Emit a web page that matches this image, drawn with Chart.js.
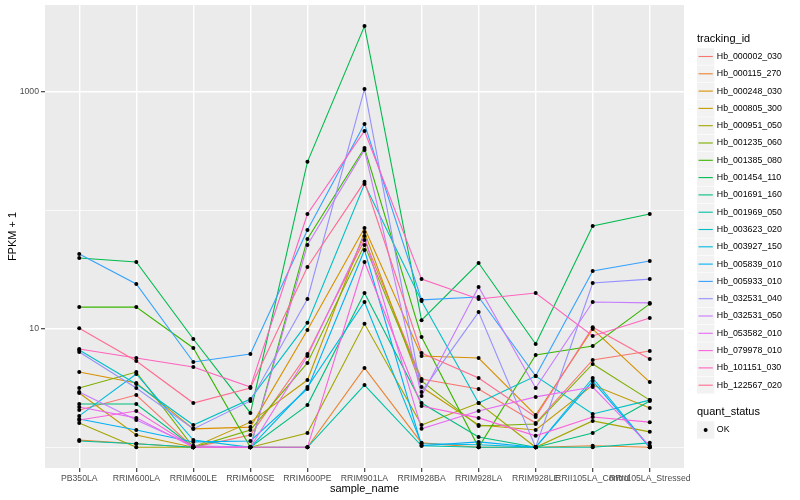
<!DOCTYPE html>
<html>
<head>
<meta charset="utf-8">
<script src="https://cdn.jsdelivr.net/npm/chart.js@4.4.1/dist/chart.umd.min.js"></script>
<style>
  html, body { margin: 0; padding: 0; background: #fff; }
  #wrap { width: 800px; height: 500px; }
</style>
</head>
<body>
<div id="wrap"><canvas id="chart" width="800" height="500"></canvas></div>
<script>
const categories = ['PB350LA', 'RRIM600LA', 'RRIM600LE', 'RRIM600SE', 'RRIM600PE', 'RRIM901LA',
    'RRIM928BA', 'RRIM928LA', 'RRIM928LE', 'RRII105LA_Control', 'RRII105LA_Stressed'];

// FPKM + 1, one array per tracking_id, in the order of categories
const Hb_000002_030 = [2.06, 2.76, 1, 1.27, 6.12, 56.0, 3.77, 3.10, 1.60, 5.45, 6.49];
const Hb_000115_270 = [1.15, 1.07, 1, 1, 1, 4.66, 1.09, 1, 1, 1.03, 1];
const Hb_000248_030 = [4.31, 3.48, 1.43, 1.48, 9.75, 70.6, 5.89, 5.66, 1.87, 9.94, 3.55];
const Hb_000805_300 = [2.87, 1.27, 1, 1.63, 3.69, 65.3, 3.22, 1.54, 1.40, 3.35, 2.14];
const Hb_000951_050 = [1.60, 1, 1, 1, 1.32, 11.0, 1.54, 2.36, 1, 1.67, 1.35];
const Hb_001235_060 = [3.16, 4.31, 1, 1.40, 5.14, 50.8, 3.62, 1.51, 1.57, 5.04, 2.50];
const Hb_001385_080 = [15.2, 15.2, 6.88, 1, 57.1, 334, 8.51, 1, 6.00, 7.15, 16.2];
const Hb_001454_110 = [39.5, 36.5, 8.19, 1.95, 255, 3560, 11.8, 35.8, 7.43, 73.5, 92.7];
const Hb_001691_160 = [2.32, 2.32, 1, 1, 2.27, 20.0, 2.36, 1.22, 1, 1.32, 2.46];
const Hb_001969_050 = [1.13, 1.07, 1, 1, 1, 3.35, 1.03, 1, 1, 1, 1.09];
const Hb_003623_020 = [6.61, 3.42, 1.54, 2.55, 11.2, 166, 17.1, 2.36, 3.99, 1.91, 2.50];
const Hb_003927_150 = [1.84, 4.15, 1.15, 1, 3.22, 16.8, 1.07, 1.05, 1, 3.84, 1];
const Hb_005839_010 = [1.73, 1.40, 1.11, 1.13, 3.10, 46.1, 1.03, 1.11, 1, 3.62, 1];
const Hb_005933_010 = [42.6, 23.8, 5.24, 6.12, 67.9, 532, 17.5, 18.5, 3.99, 30.7, 37.2];
const Hb_032531_040 = [6.36, 3.16, 1.43, 2.46, 17.8, 1050, 2.93, 13.8, 1, 24.3, 26.2];
const Hb_032531_050 = [2.93, 1.70, 1.03, 1, 50.8, 321, 2.71, 22.5, 3.16, 16.8, 16.5];
const Hb_053582_010 = [2.19, 1.77, 1, 1, 5.89, 60.5, 1.43, 2.02, 2.66, 3.22, 1.03];
const Hb_079978_010 = [1.70, 2.02, 1, 1, 1, 36.5, 2.23, 1.77, 1.25, 1.80, 1.63];
const Hb_101151_030 = [6.74, 5.66, 4.75, 3.22, 92.7, 464, 26.2, 17.8, 20.0, 8.68, 12.3];
const Hb_122567_020 = [10.1, 5.34, 2.36, 3.16, 33.1, 173, 6.24, 3.84, 1.80, 10.3, 5.55];

const trackingIds = ['Hb_000002_030', 'Hb_000115_270', 'Hb_000248_030', 'Hb_000805_300', 'Hb_000951_050',
    'Hb_001235_060', 'Hb_001385_080', 'Hb_001454_110', 'Hb_001691_160', 'Hb_001969_050',
    'Hb_003623_020', 'Hb_003927_150', 'Hb_005839_010', 'Hb_005933_010', 'Hb_032531_040',
    'Hb_032531_050', 'Hb_053582_010', 'Hb_079978_010', 'Hb_101151_030', 'Hb_122567_020'];
const seriesValues = [Hb_000002_030, Hb_000115_270, Hb_000248_030, Hb_000805_300, Hb_000951_050,
    Hb_001235_060, Hb_001385_080, Hb_001454_110, Hb_001691_160, Hb_001969_050,
    Hb_003623_020, Hb_003927_150, Hb_005839_010, Hb_005933_010, Hb_032531_040,
    Hb_032531_050, Hb_053582_010, Hb_079978_010, Hb_101151_030, Hb_122567_020];

const yBreaks = [1, 10, 100, 1000];
const yLabelled = [10, 1000];

// ggplot hue palette, 20 levels
const colores = ['#F8766D', '#EA8331', '#D89000', '#C09B00', '#A3A500', '#7CAE00', '#39B600', '#00BB4E',
    '#00BF7D', '#00C1A3', '#00BFC4', '#00BAE0', '#00B0F6', '#35A2FF', '#9590FF', '#C77CFF',
    '#E76BF3', '#FA62DB', '#FF62BC', '#FF6C91'];

const FAMILY = '"Liberation Sans", Arial, Helvetica, sans-serif';

const lineSets = seriesValues.map((vals, i) => ({
    label: trackingIds[i],
    data: vals.map((v, j) => ({ x: j, y: v })),
    borderColor: colores[i],
    backgroundColor: colores[i],
    borderWidth: 1.1,
    pointRadius: 0,
    tension: 0,
    order: -i
}));

const puntos = {
    label: 'OK',
    data: seriesValues.flatMap(vals => vals.map((v, j) => ({ x: j, y: v }))),
    showLine: false,
    pointRadius: 2,
    pointBackgroundColor: '#000000',
    pointBorderWidth: 0,
    order: -100
};

// panel background
const panelBg = {
    id: 'panelBg',
    beforeDraw(chart) {
        const { ctx, chartArea: a } = chart;
        ctx.save();
        ctx.fillStyle = '#FFFFFF';
        ctx.fillRect(0, 0, chart.width, chart.height);
        ctx.fillStyle = '#EBEBEB';
        ctx.fillRect(a.left, a.top, a.right - a.left, a.bottom - a.top);
        ctx.restore();
    }
};

// legend drawn like ggplot's guide
const ggLegend = {
    id: 'ggLegend',
    afterDraw(chart) {
        const ctx = chart.ctx;
        const x0 = 697, key = 17.3;
        ctx.save();
        ctx.textAlign = 'left';
        ctx.textBaseline = 'middle';
        ctx.fillStyle = '#000';
        ctx.font = '11px ' + FAMILY;
        ctx.fillText('tracking_id', x0, 39);
        trackingIds.forEach((id, i) => {
            const cy = 56.5 + i * key;
            ctx.fillStyle = '#F2F2F2';
            ctx.fillRect(x0, cy - key / 2 + 0.3, key, key - 0.6);
            ctx.strokeStyle = colores[i];
            ctx.lineWidth = 1.1;
            ctx.beginPath();
            ctx.moveTo(x0 + 1.5, cy);
            ctx.lineTo(x0 + key - 1.5, cy);
            ctx.stroke();
            ctx.fillStyle = '#000';
            ctx.font = '8.8px ' + FAMILY;
            ctx.fillText(id, x0 + key + 2.5, cy);
        });
        ctx.font = '11px ' + FAMILY;
        ctx.fillText('quant_status', x0, 412);
        const cy = 430;
        ctx.fillStyle = '#F2F2F2';
        ctx.fillRect(x0, cy - key / 2, key, key);
        ctx.fillStyle = '#000';
        ctx.beginPath();
        ctx.arc(x0 + key / 2, cy, 2, 0, Math.PI * 2);
        ctx.fill();
        ctx.font = '8.8px ' + FAMILY;
        ctx.fillText('OK', x0 + key + 2.5, cy);
        ctx.restore();
    }
};

new Chart(document.getElementById('chart'), {
    type: 'line',
    data: { datasets: [...lineSets, puntos] },
    options: {
        responsive: false,
        animation: false,
        events: [],
        layout: { padding: { top: 5, right: 116, bottom: 0, left: 0 } },
        plugins: {
            legend: { display: false },
            tooltip: { enabled: false }
        },
        scales: {
            x: {
                type: 'linear',
                min: -0.6,
                max: 10.6,
                afterBuildTicks: s => { s.ticks = categories.map((c, i) => ({ value: i })); },
                afterFit: s => { s.height = 32; s.paddingLeft = 0; s.paddingRight = 0; },
                ticks: {
                    autoSkip: false,
                    maxRotation: 0,
                    minRotation: 0,
                    padding: 1,
                    color: '#4D4D4D',
                    font: { size: 8.7, family: FAMILY },
                    callback: v => categories[v]
                },
                grid: { color: '#FFFFFF', lineWidth: 1.4, tickLength: 4, tickColor: '#333333', tickWidth: 1.1 },
                border: { display: false },
                title: {
                    display: true, text: 'sample_name', color: '#000',
                    font: { size: 11, family: FAMILY }, padding: { top: 0, bottom: 4.7 }
                }
            },
            y: {
                type: 'logarithmic',
                min: 0.669,
                max: 5360,
                afterBuildTicks: s => { s.ticks = yBreaks.map(v => ({ value: v })); },
                afterFit: s => { s.width = 45; s.paddingTop = 0; s.paddingBottom = 0; },
                ticks: {
                    padding: 2,
                    color: '#4D4D4D',
                    font: { size: 8.7, family: FAMILY },
                    callback: v => yLabelled.includes(v) ? String(v) : ''
                },
                grid: {
                    color: '#FFFFFF',
                    lineWidth: c => (c.tick && yLabelled.includes(c.tick.value)) ? 1.4 : 0.7,
                    tickLength: 4,
                    tickColor: c => (c.tick && yLabelled.includes(c.tick.value)) ? '#333333' : 'rgba(0,0,0,0)',
                    tickWidth: 1.1
                },
                border: { display: false },
                title: {
                    display: true, text: 'FPKM + 1', color: '#000',
                    font: { size: 11, family: FAMILY }, padding: { top: 6.5, bottom: 0 }
                }
            }
        }
    },
    plugins: [panelBg, ggLegend]
});
</script>
</body>
</html>
